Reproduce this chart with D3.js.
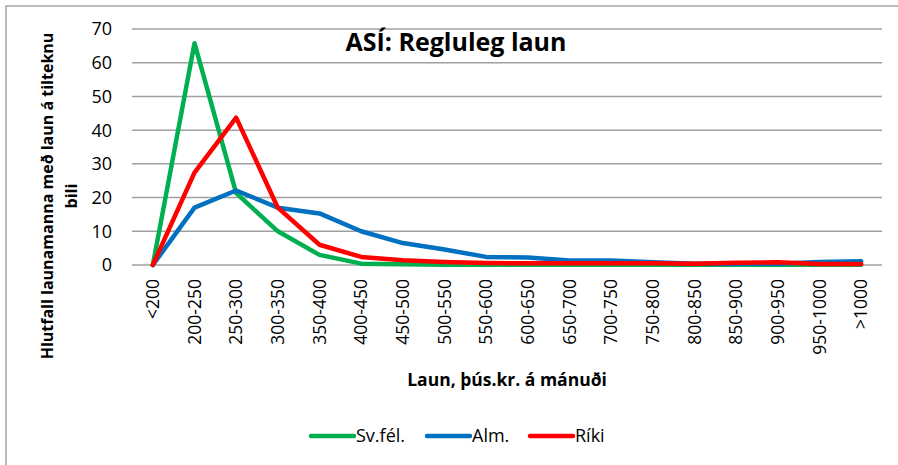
<!DOCTYPE html>
<html>
<head>
<meta charset="utf-8">
<script src="https://cdn.jsdelivr.net/npm/d3@7"></script>
<style>
  body { margin: 0; background: #fff; }
  svg { display: block; }
  text { font-family: "Open Sans", Lato, sans-serif; fill: #000; }
</style>
</head>
<body>
<svg id="chart" width="898" height="465"></svg>
<script>
const categories = ["<200","200-250","250-300","300-350","350-400","400-450","450-500","500-550","550-600","600-650","650-700","700-750","750-800","800-850","850-900","900-950","950-1000",">1000"];
const svfel = [0, 65.8, 21.3, 10, 3, 0.4, 0.2, 0.1, 0.1, 0.1, 0.1, 0.1, 0.1, 0.1, 0.1, 0.1, 0.1, 0.1];
const alm   = [0, 17, 22.1, 17, 15.3, 10, 6.5, 4.6, 2.4, 2.2, 1.3, 1.3, 0.8, 0.4, 0.4, 0.4, 0.9, 1.1];
const riki  = [0, 27.4, 43.7, 17, 6, 2.4, 1.4, 0.9, 0.6, 0.5, 0.5, 0.5, 0.5, 0.4, 0.7, 0.8, 0.3, 0.3];
const yTicks = [0, 10, 20, 30, 40, 50, 60, 70];
const seriesNames = ["Sv.fél.", "Alm.", "Ríki"];
const seriesColors = ["#00B050", "#0070C0", "#FF0000"];
const title = "ASÍ: Regluleg laun";
const yTitle = ["Hlutfall launamanna með laun á tilteknu", "bili"];
const xTitle = "Laun, þús.kr. á mánuði";

const series = [svfel, alm, riki];
const svg = d3.select("#chart");

// outer border
svg.append("rect").attr("x", 6).attr("y", 6).attr("width", 1000).attr("height", 1000)
  .attr("fill", "none").attr("stroke", "#a6a6a6").attr("stroke-width", 1.5);

const plot = { left: 132, right: 882, top: 29, bottom: 265 };
const x = d3.scalePoint().domain(categories).range([plot.left, plot.right]).padding(0.5);
const y = d3.scaleLinear().domain([0, 70]).range([plot.bottom, plot.top]);

// gridlines
svg.append("g").selectAll("line").data(yTicks).join("line")
  .attr("x1", plot.left).attr("x2", plot.right)
  .attr("y1", d => y(d)).attr("y2", d => y(d))
  .attr("stroke", "#a0a0a0").attr("stroke-width", 1.5);

// y tick labels
svg.append("g").selectAll("text").data(yTicks).join("text")
  .attr("x", 112).attr("y", d => y(d)).attr("dy", "0.36em")
  .attr("text-anchor", "end").style("font-size", "18px").text(d => d);

// x tick labels
svg.append("g").selectAll("text").data(categories).join("text")
  .attr("transform", d => `translate(${x(d)},${279}) rotate(-90)`)
  .attr("dy", "0.36em").attr("text-anchor", "end")
  .style("font-size", "17.5px").text(d => d);

// lines
const line = d3.line().x((d, i) => x(categories[i])).y(d => y(d));
series.forEach((s, k) => {
  svg.append("path").datum(s).attr("d", line)
    .attr("fill", "none").attr("stroke", seriesColors[k])
    .attr("stroke-width", 4.5).attr("stroke-linejoin", "round").attr("stroke-linecap", "round");
});

// title
svg.append("text").attr("x", 456).attr("y", 51).attr("text-anchor", "middle")
  .style("font-size", "25px").style("font-weight", "bold").text(title);

// y title
const yt = svg.append("text").attr("transform", "translate(0,196) rotate(-90)")
  .attr("text-anchor", "middle").style("font-size", "16px").style("font-weight", "bold");
yt.append("tspan").attr("x", 0).attr("y", 53).text(yTitle[0]);
yt.append("tspan").attr("x", 0).attr("y", 77).text(yTitle[1]);

// x title
svg.append("text").attr("x", 507).attr("y", 386).attr("text-anchor", "middle")
  .style("font-size", "17.5px").style("font-weight", "bold").text(xTitle);

// legend
const legX = [311, 427, 530];
const lg = svg.append("g");
seriesNames.forEach((n, k) => {
  lg.append("line").attr("x1", legX[k]).attr("x2", legX[k] + 43).attr("y1", 436).attr("y2", 436)
    .attr("stroke", seriesColors[k]).attr("stroke-width", 4.5).attr("stroke-linecap", "round");
  lg.append("text").attr("x", legX[k] + 45).attr("y", 436).attr("dy", "0.36em")
    .style("font-size", "18px").text(n);
});
</script>
</body>
</html>
